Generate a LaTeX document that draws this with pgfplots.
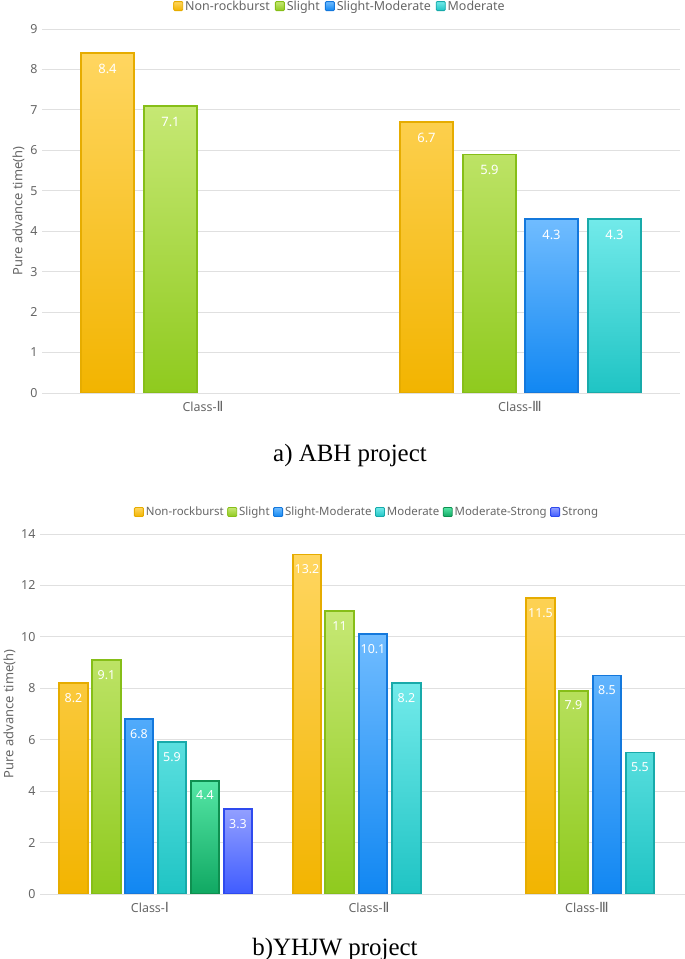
\documentclass[border=0pt]{standalone}
\usepackage{pgfplots}
\pgfplotsset{compat=1.18}
\usepackage{fontspec}
\setmainfont{Liberation Serif}
\newfontfamily\uifont{Noto Sans}
\newfontfamily\romfont{DejaVu Sans}

\definecolor{topO}{HTML}{FFD660}
\definecolor{botO}{HTML}{F2B400}
\definecolor{brdO}{HTML}{E6AC00}
\definecolor{topG}{HTML}{C6E874}
\definecolor{botG}{HTML}{8FCA1E}
\definecolor{brdG}{HTML}{86BE18}
\definecolor{topB}{HTML}{70BCFF}
\definecolor{botB}{HTML}{1187F2}
\definecolor{brdB}{HTML}{1478DC}
\definecolor{topC}{HTML}{72EAEA}
\definecolor{botC}{HTML}{1FC4C4}
\definecolor{brdC}{HTML}{18AAAA}
\definecolor{topD}{HTML}{55E6A6}
\definecolor{botD}{HTML}{10A862}
\definecolor{brdD}{HTML}{0E9050}
\definecolor{topP}{HTML}{929FFF}
\definecolor{botP}{HTML}{3F5CFF}
\definecolor{brdP}{HTML}{2E4AEE}
\definecolor{gridc}{HTML}{E0E0E0}
\definecolor{txtc}{HTML}{666666}

\newcommand\rom[1]{{\romfont\fontsize{14}{14}\selectfont #1}}

\pgfplotsset{
  barO/.style={draw=brdO, top color=topO, bottom color=botO, line width=1.6bp, bar shift=0pt},
  barG/.style={draw=brdG, top color=topG, bottom color=botG, line width=1.6bp, bar shift=0pt},
  barB/.style={draw=brdB, top color=topB, bottom color=botB, line width=1.6bp, bar shift=0pt},
  barC/.style={draw=brdC, top color=topC, bottom color=botC, line width=1.6bp, bar shift=0pt},
  barD/.style={draw=brdD, top color=topD, bottom color=botD, line width=1.6bp, bar shift=0pt},
  barP/.style={draw=brdP, top color=topP, bottom color=botP, line width=1.6bp, bar shift=0pt},
  common/.style={
    anchor=south west, scale only axis, ybar,
    ymajorgrids, grid style={draw=gridc, line width=0.9bp},
    axis line style={draw=none}, major tick length=0pt,
    tick label style={font=\uifont\fontsize{12.5}{14}\selectfont, text=txtc},
    /pgf/number format/assume math mode=true,
    xticklabel style={yshift=-5bp},
    yticklabel style={xshift=-1bp},
    ylabel={Pure advance time(h)},
    ylabel style={font=\uifont\fontsize{13}{14}\selectfont, text=txtc, yshift=-1bp},
    legend style={draw=none, fill=none, legend columns=-1, anchor=center,
      font=\uifont\fontsize{12.5}{14}\selectfont, text=txtc,
      /tikz/every even column/.append style={column sep=3bp}},
    legend image code/.code={\draw[##1, line width=0.9bp, rounded corners=1pt] (0bp,-4.5bp) rectangle (9bp,4.5bp);},
    nodes near coords,
  },
}

\begin{document}
\begin{tikzpicture}
\useasboundingbox (0,0) rectangle (685bp,959bp);

% ---------- a) ABH project ----------
\begin{axis}[common,
  at={(42bp,566bp)}, width=638bp, height=364bp,
  xmin=42, xmax=680, ymin=0, ymax=9, ytick={0,1,...,9},
  xtick={203,520}, xticklabels={Class-\rom{Ⅱ}, Class-\rom{Ⅲ}},
  bar width=53,
  legend style={at={(0.467,1.063)}},
  nodes near coords style={font=\uifont\bfseries\fontsize{13}{14}\selectfont, text=white, anchor=north, yshift=-7bp},
]
\addplot[barO] coordinates {(107.5,8.4) (426.5,6.7)};
\addplot[barG] coordinates {(170.5,7.1) (489.5,5.9)};
\addplot[barB] coordinates {(551.5,4.3)};
\addplot[barC] coordinates {(614.5,4.3)};
\legend{Non-rockburst, Slight, Slight-Moderate, Moderate}
\end{axis}

% ---------- b) YHJW project ----------
\begin{axis}[common,
  at={(40bp,65bp)}, width=645bp, height=360bp,
  xmin=40, xmax=685, ymin=0, ymax=14, ytick={0,2,...,14},
  xtick={150,369,587}, xticklabels={Class-\rom{Ⅰ}, Class-\rom{Ⅱ}, Class-\rom{Ⅲ}},
  bar width=28.5,
  legend style={at={(0.507,1.061)}, font=\uifont\fontsize{11.5}{13}\selectfont,
    /tikz/every even column/.append style={column sep=1.5bp}},
  nodes near coords style={font=\uifont\fontsize{12.5}{14}\selectfont, text=white, anchor=north, yshift=-6bp},
]
\addplot[barO] coordinates {(73.5,8.2) (307,13.2) (540.5,11.5)};
\addplot[barG] coordinates {(106.5,9.1) (339.5,11) (573.5,7.9)};
\addplot[barB] coordinates {(139,6.8) (373,10.1) (607,8.5)};
\addplot[barC] coordinates {(172,5.9) (406.5,8.2) (640,5.5)};
\addplot[barD] coordinates {(205,4.4)};
\addplot[barP] coordinates {(238,3.3)};
\legend{Non-rockburst, Slight, Slight-Moderate, Moderate, Moderate-Strong, Strong}
\end{axis}

\node[anchor=base, font=\fontsize{25}{28}\selectfont] at (350bp,497bp) {a) ABH project};
\node[anchor=base, font=\fontsize{25}{28}\selectfont] at (335bp,4bp) {b)YHJW project};
\end{tikzpicture}
\end{document}
